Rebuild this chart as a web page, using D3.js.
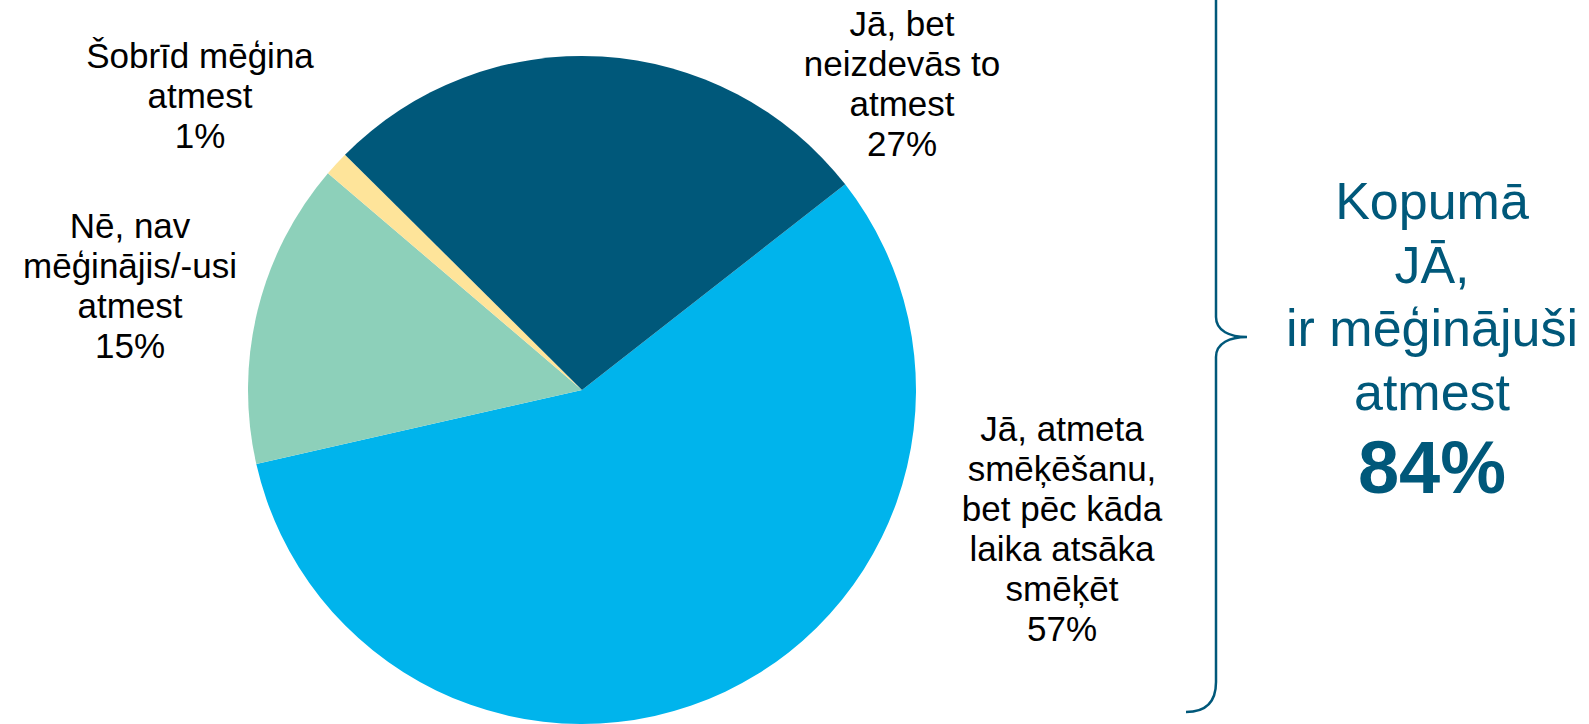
<!DOCTYPE html>
<html lang="lv">
<head>
    <meta charset="UTF-8">
    <title>Mēģinājumi atmest smēķēšanu</title>
    <script src="https://d3js.org/d3.v7.min.js"></script>
</head>
<style>
    body {
        margin: 0;
        padding: 0;
        background: #ffffff;
    }

    svg {
        display: block;
        font-family: "Liberation Sans", Arial, sans-serif;
    }

    .slice-label {
        font-size: 35px;
        fill: #000000;
    }

    .summary {
        fill: #00587A;
    }
</style>
<body>
<div class="chart"></div>

<script>
  /** DATA */
  var categories = [
    'Jā, atmeta smēķēšanu, bet pēc kāda laika atsāka smēķēt',
    'Nē, nav mēģinājis/-usi atmest',
    'Šobrīd mēģina atmest',
    'Jā, bet neizdevās to atmest'
  ];
  var shares = [57.0, 14.8, 1.2, 27.0];
  /** how each category label is broken into lines */
  var labelLines = [
    ['Jā, atmeta', 'smēķēšanu,', 'bet pēc kāda', 'laika atsāka', 'smēķēt'],
    ['Nē, nav', 'mēģinājis/-usi', 'atmest'],
    ['Šobrīd mēģina', 'atmest'],
    ['Jā, bet', 'neizdevās to', 'atmest']
  ];
  var summaryLines = ['Kopumā', 'JĀ,', 'ir mēģinājuši', 'atmest'];
  var summaryValue = '84%';

  /** LAYOUT */
  var width = 1589;
  var height = 724;
  var cx = 582;
  var cy = 390;
  var radius = 334;
  var startDeg = 52; // first slice starts at 52 degrees clockwise from 12 o'clock
  var colors = ['#00B4EC', '#8DD0BA', '#FEE49A', '#00587A'];
  var lineHeight = 40;

  // centre x and first baseline y for each label block
  var labelPos = [
    [1062, 441],
    [130, 238],
    [200, 68],
    [902, 36]
  ];

  var svg = d3.select('.chart')
    .append('svg')
    .attr('width', width)
    .attr('height', height);

  /** PIE */
  var pie = d3.pie()
    .sort(null)
    .value(function (d) { return d; })
    .startAngle(startDeg * Math.PI / 180)
    .endAngle(startDeg * Math.PI / 180 + 2 * Math.PI);

  var arc = d3.arc()
    .innerRadius(0)
    .outerRadius(radius);

  var colorScale = d3.scaleOrdinal()
    .domain(categories)
    .range(colors);

  var pieGroup = svg.append('g')
    .attr('transform', 'translate(' + cx + ',' + cy + ')');

  pieGroup.selectAll('path')
    .data(pie(shares))
    .enter().append('path')
    .attr('d', arc)
    .attr('fill', function (d, i) { return colorScale(categories[i]); });

  /** LABELS */
  var fmt = d3.format('.0f');

  var labels = svg.append('g')
    .selectAll('text')
    .data(shares)
    .enter().append('text')
    .classed('slice-label', true)
    .attr('text-anchor', 'middle')
    .attr('x', function (d, i) { return labelPos[i][0]; })
    .attr('y', function (d, i) { return labelPos[i][1]; });

  labels.each(function (d, i) {
    var lines = labelLines[i].concat([fmt(d) + '%']);
    d3.select(this).selectAll('tspan')
      .data(lines)
      .enter().append('tspan')
      .attr('x', labelPos[i][0])
      .attr('dy', function (_, j) { return j === 0 ? 0 : lineHeight; })
      .text(function (t) { return t; });
  });

  /** BRACE on the right */
  var braceX = 1216;
  var tipX = 1247;
  var tipY = 337;
  var braceBottom = 712;
  var bracePath = d3.path();
  bracePath.moveTo(braceX, -10);
  bracePath.lineTo(braceX, tipY - 20);
  bracePath.bezierCurveTo(braceX, tipY - 6, braceX + 14, tipY, tipX, tipY);
  bracePath.moveTo(tipX, tipY);
  bracePath.bezierCurveTo(braceX + 14, tipY, braceX, tipY + 6, braceX, tipY + 20);
  bracePath.lineTo(braceX, braceBottom - 30);
  bracePath.bezierCurveTo(braceX, braceBottom - 10, braceX - 10, braceBottom, braceX - 30, braceBottom);

  svg.append('path')
    .attr('d', bracePath.toString())
    .attr('fill', 'none')
    .attr('stroke', '#00587A')
    .attr('stroke-width', 2.5);

  /** SUMMARY TEXT */
  var summaryX = 1432;
  var summary = svg.append('text')
    .classed('summary', true)
    .attr('text-anchor', 'middle')
    .attr('x', summaryX)
    .attr('y', 219)
    .style('font-size', '52px');

  summary.selectAll('tspan')
    .data(summaryLines)
    .enter().append('tspan')
    .attr('x', summaryX)
    .attr('dy', function (_, j) { return j === 0 ? 0 : 63.7; })
    .text(function (t) { return t; });

  svg.append('text')
    .classed('summary', true)
    .attr('text-anchor', 'middle')
    .attr('x', summaryX)
    .attr('y', 493)
    .style('font-size', '74px')
    .style('font-weight', 'bold')
    .text(summaryValue);
</script>
</body>
</html>
